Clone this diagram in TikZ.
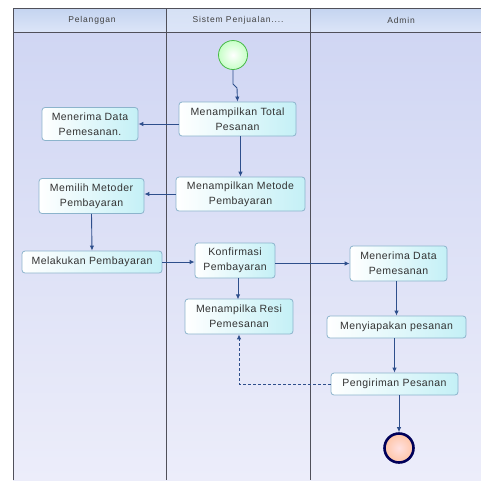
\documentclass[tikz,border=0pt]{standalone}
\usepackage{fontspec}
\setmainfont{Liberation Sans}
\newfontfamily\boxfont[LetterSpace=4]{Liberation Sans}
\newfontfamily\headfont[LetterSpace=10]{Liberation Sans}
\usetikzlibrary{arrows.meta,shadings}
\definecolor{flow}{HTML}{2E4F8C}
\definecolor{boxline}{HTML}{8CB4CC}
\definecolor{boxcyan}{HTML}{C4F0F6}
\definecolor{lanetop}{HTML}{D0D6F3}
\definecolor{lanebot}{HTML}{ECEDFA}
\definecolor{headtop}{HTML}{C4D4F0}
\definecolor{headbot}{HTML}{DCE5F8}
\definecolor{frameline}{HTML}{50505A}
\tikzset{
  act/.style={draw=boxline, line width=0.8pt, rounded corners=3pt,
    left color=white, right color=boxcyan, align=center,
    font=\boxfont\fontsize{10.5}{15}\selectfont, text=black!80, inner sep=2pt},
  flowline/.style={draw=flow, line width=0.9pt, -{Latex[length=5pt,width=4.5pt]}},
  backline/.style={flowline, dashed, dash pattern=on 3pt off 2pt},
  lanehead/.style={font=\headfont\fontsize{8.5}{10}\selectfont, text=black!75}
}
\begin{document}
\begin{tikzpicture}[x=1pt,y=-1pt]
\useasboundingbox (0,0) rectangle (481,480);
% swimlane bodies
\shade[top color=lanetop, bottom color=lanebot] (13,32) rectangle (166,480);
\shade[top color=lanetop, bottom color=lanebot] (166,32) rectangle (310,480);
\shade[top color=lanetop, bottom color=lanebot] (310,32) rectangle (481,480);
% lane headers
\shade[top color=headtop, bottom color=headbot] (13,8) rectangle (166,32);
\shade[top color=headtop!70!white, bottom color=headbot] (166,8) rectangle (310,32);
\shade[top color=headtop, bottom color=headbot] (310,8) rectangle (481,32);
\draw[frameline, line width=0.9pt] (13,480) -- (13,8) -- (481,8);
\draw[frameline, line width=0.9pt] (13,32) -- (481,32);
\draw[frameline, line width=0.9pt] (166,8) -- (166,480);
\draw[frameline, line width=0.9pt] (310,8) -- (310,480);
\node[lanehead] (hp) at (92,20) {Pelanggan};
\node[lanehead] (hs) at (238,20) {Sistem Penjualan....};
\node[lanehead] (ha) at (401,20) {Admin};

% start and end
\node[circle, draw=green!45!gray, line width=0.8pt, inner color=white, outer color=green!22, minimum size=29pt, inner sep=0pt] (start) at (233,55) {};
\node[circle, draw=blue!35!black, line width=2.6pt, inner color=red!12, outer color=red!30!orange!35, minimum size=29pt, inner sep=0pt] (end) at (399,448) {};

% activities
\node[act, minimum width=117pt, minimum height=34pt] (total) at (237.5,119) {Menampilkan Total\\Pesanan};
\node[act, minimum width=96pt, minimum height=33pt] (terima) at (90,124) {Menerima Data\\Pemesanan.};
\node[act, minimum width=129pt, minimum height=34pt] (metode) at (240.5,194) {Menampilkan Metode\\Pembayaran};
\node[act, minimum width=105pt, minimum height=35pt] (pilih) at (91.5,196) {Memilih Metoder\\Pembayaran};
\node[act, minimum width=140pt, minimum height=22pt] (bayar) at (92,262) {Melakukan Pembayaran};
\node[act, minimum width=80pt, minimum height=35pt] (konf) at (235,260.5) {Konfirmasi\\Pembayaran};
\node[act, minimum width=108pt, minimum height=35pt] (resi) at (239,316.5) {Menampilka Resi\\Pemesanan};
\node[act, minimum width=97pt, minimum height=35pt] (adm) at (398.5,263.5) {Menerima Data\\Pemesanan};
\node[act, minimum width=139pt, minimum height=22pt] (siap) at (396.5,327) {Menyiapakan pesanan};
\node[act, minimum width=127pt, minimum height=22pt] (kirim) at (394.5,384) {Pengiriman Pesanan};

% control flow
\draw[flowline] (start.south) -- ++(0,14) -- ++(4,4) -- (total.north);
\draw[flowline] (total.west |- terima.east) -- (terima.east);
\draw[flowline] (total.south -| metode.north) -- (metode.north);
\draw[flowline] (metode.west) -- (metode.west -| pilih.east);
\draw[flowline] (pilih.south) -- (bayar.north);
\draw[flowline] (bayar.east) -- (bayar.east -| konf.west);
\draw[flowline] (konf.south -| resi.north) ++(-1,0) -- ++(0,21);
\draw[flowline] (konf.east |- adm.west) -- (adm.west);
\draw[flowline] (adm.south -| siap.north) -- (siap.north);
\draw[flowline] (siap.south -| kirim.north) -- (kirim.north);
\draw[flowline] (kirim.south -| end.north) -- (end.north);
\draw[backline] (kirim.west) -| (resi.south);
\end{tikzpicture}
\end{document}
